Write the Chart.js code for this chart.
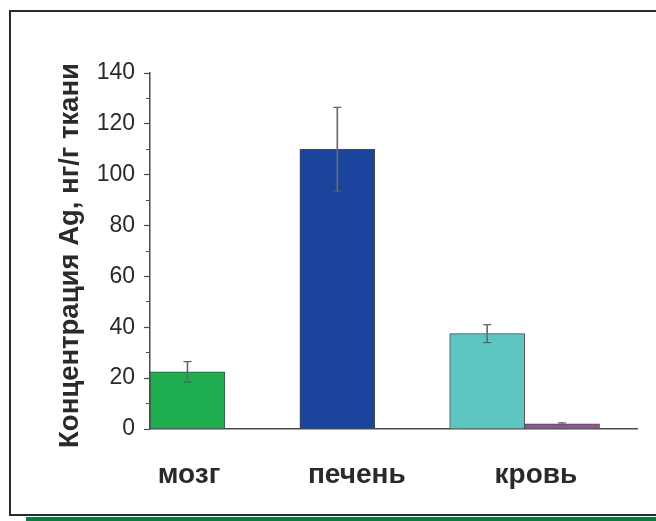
<!DOCTYPE html>
<html lang="ru">
<head>
<meta charset="UTF-8" />
<title>Концентрация Ag</title>
<script src="https://cdn.jsdelivr.net/npm/chart.js@4.4.1/dist/chart.umd.min.js"></script>
<style>
  html, body { margin: 0; padding: 0; background: #fff; overflow: hidden; }
  .frame {
    position: absolute; left: 9px; top: 10px; width: 700px; height: 502px;
    border: 2px solid #2b2b2b; border-right: none;
  }
  .strip { position: absolute; left: 26px; top: 517px; width: 640px; height: 4px; background: #0b7b42; }
  .wrap { position: absolute; left: 0; top: 0; width: 656px; height: 521px; }
</style>
</head>
<body>
<div class="frame"></div>
<div class="strip"></div>
<div class="wrap"><canvas id="agChart" width="656" height="521"></canvas></div>

<script>
  // data
  const organs = ["мозг", "печень", "кровь"];
  const agMain = [22.5, 110, 37.5];
  const agMainErr = [4, 16.5, 3.5];
  const agSecond = [null, null, 2];
  const agSecondErr = [null, null, 0.4];
  const yTickValues = [0, 20, 40, 60, 80, 100, 120, 140];

  const mainColors = ["#1fae4f", "#1b449d", "#5ec6c0"];
  const secondColor = "#8d5a8c";
  const labelAt = [0.52, 2.76, 5.15]; // where the category names sit on the x scale

  // bars sit two units apart, the second series right next to the first
  const mainPts = organs.map((o, i) => ({ x: 2 * i + 0.5, y: agMain[i] }));
  const secondPts = organs
    .map((o, i) => (agSecond[i] == null ? null : { x: 2 * i + 1.5, y: agSecond[i] }))
    .filter((p) => p);

  const errStems = [];
  const errCaps = [];
  function addErr(pts, vals, errs) {
    pts.forEach((p) => {
      const i = organs.findIndex((o, k) => vals[k] === p.y);
      const e = errs[i];
      errStems.push({ x: p.x, y: [p.y - e, p.y + e] });
      errCaps.push({ x: p.x, y: p.y - e }, { x: p.x, y: p.y + e });
    });
  }
  addErr(mainPts, agMain, agMainErr);
  addErr(secondPts, agSecond, agSecondErr);

  const ink = "#2a2a2a";
  const axisInk = "#4a4a4a";

  new Chart(document.getElementById("agChart"), {
    type: "bar",
    data: {
      datasets: [
        {
          label: "Ag",
          data: mainPts,
          backgroundColor: mainColors,
          borderColor: "#4a4a4a",
          borderWidth: 1,
          order: 2,
        },
        {
          label: "Ag 2",
          data: secondPts,
          backgroundColor: secondColor,
          borderColor: "#4a4a4a",
          borderWidth: 1,
          order: 2,
        },
        {
          label: "err",
          data: errStems,
          backgroundColor: "#6a6a6a",
          borderWidth: 0,
          barThickness: 1,
          order: 0,
        },
        {
          type: "scatter",
          label: "caps",
          data: errCaps,
          pointStyle: "line",
          pointRadius: 4,
          borderColor: "#5a5a5a",
          borderWidth: 1.2,
          order: 0,
        },
      ],
    },
    options: {
      responsive: false,
      animation: false,
      events: [],
      layout: { padding: { top: 0, left: 0, right: 19, bottom: 10 } },
      datasets: {
        bar: { grouped: false, barPercentage: 1, categoryPercentage: 1 },
      },
      plugins: {
        legend: { display: false },
        tooltip: { enabled: false },
        title: {
          display: true,
          position: "left",
          fullSize: true,
          text: "Концентрация Ag, нг/г ткани",
          color: ink,
          font: { family: "Liberation Sans, Arial, sans-serif", size: 27.5, weight: "bold" },
          padding: { top: 54, bottom: 0 },
        },
      },
      scales: {
        x: {
          type: "linear",
          position: "bottom",
          min: 0,
          max: 6.5,
          offset: false,
          afterFit: (s) => { s.height = 82; },
          afterBuildTicks: (s) => { s.ticks = labelAt.map((v) => ({ value: v })); },
          grid: { drawOnChartArea: false, drawTicks: false, offset: false },
          border: { color: axisInk, width: 1.5 },
          ticks: {
            autoSkip: false,
            maxRotation: 0,
            padding: 29,
            color: ink,
            font: { family: "Liberation Sans, Arial, sans-serif", size: 28, weight: "bold" },
            callback: (v, i) => organs[i],
          },
        },
        xTop: {
          type: "linear",
          position: "top",
          afterFit: (s) => { s.height = 73; },
          grid: { display: false },
          border: { display: false },
          ticks: { display: false },
        },
        y: {
          min: 0,
          max: 140,
          afterFit: (s) => { s.width = 150 - 87; },
          afterBuildTicks: (s) => {
            const t = [];
            for (let v = 0; v <= 140; v += 10) t.push({ value: v });
            s.ticks = t;
          },
          grid: {
            drawOnChartArea: false,
            tickLength: 6,
            tickColor: axisInk,
            tickWidth: 1.2,
            tickBorderDash: (ctx) => (yTickValues.includes(ctx.tick.value) ? [] : [0, 2, 4, 20]),
          },
          border: { color: axisInk, width: 1.5 },
          ticks: {
            autoSkip: false,
            padding: 9,
            color: ink,
            font: { family: "Liberation Sans, Arial, sans-serif", size: 23 },
            callback: (v) => (yTickValues.includes(v) ? String(v) : ""),
          },
        },
      },
    },
  });
</script>
</body>
</html>
